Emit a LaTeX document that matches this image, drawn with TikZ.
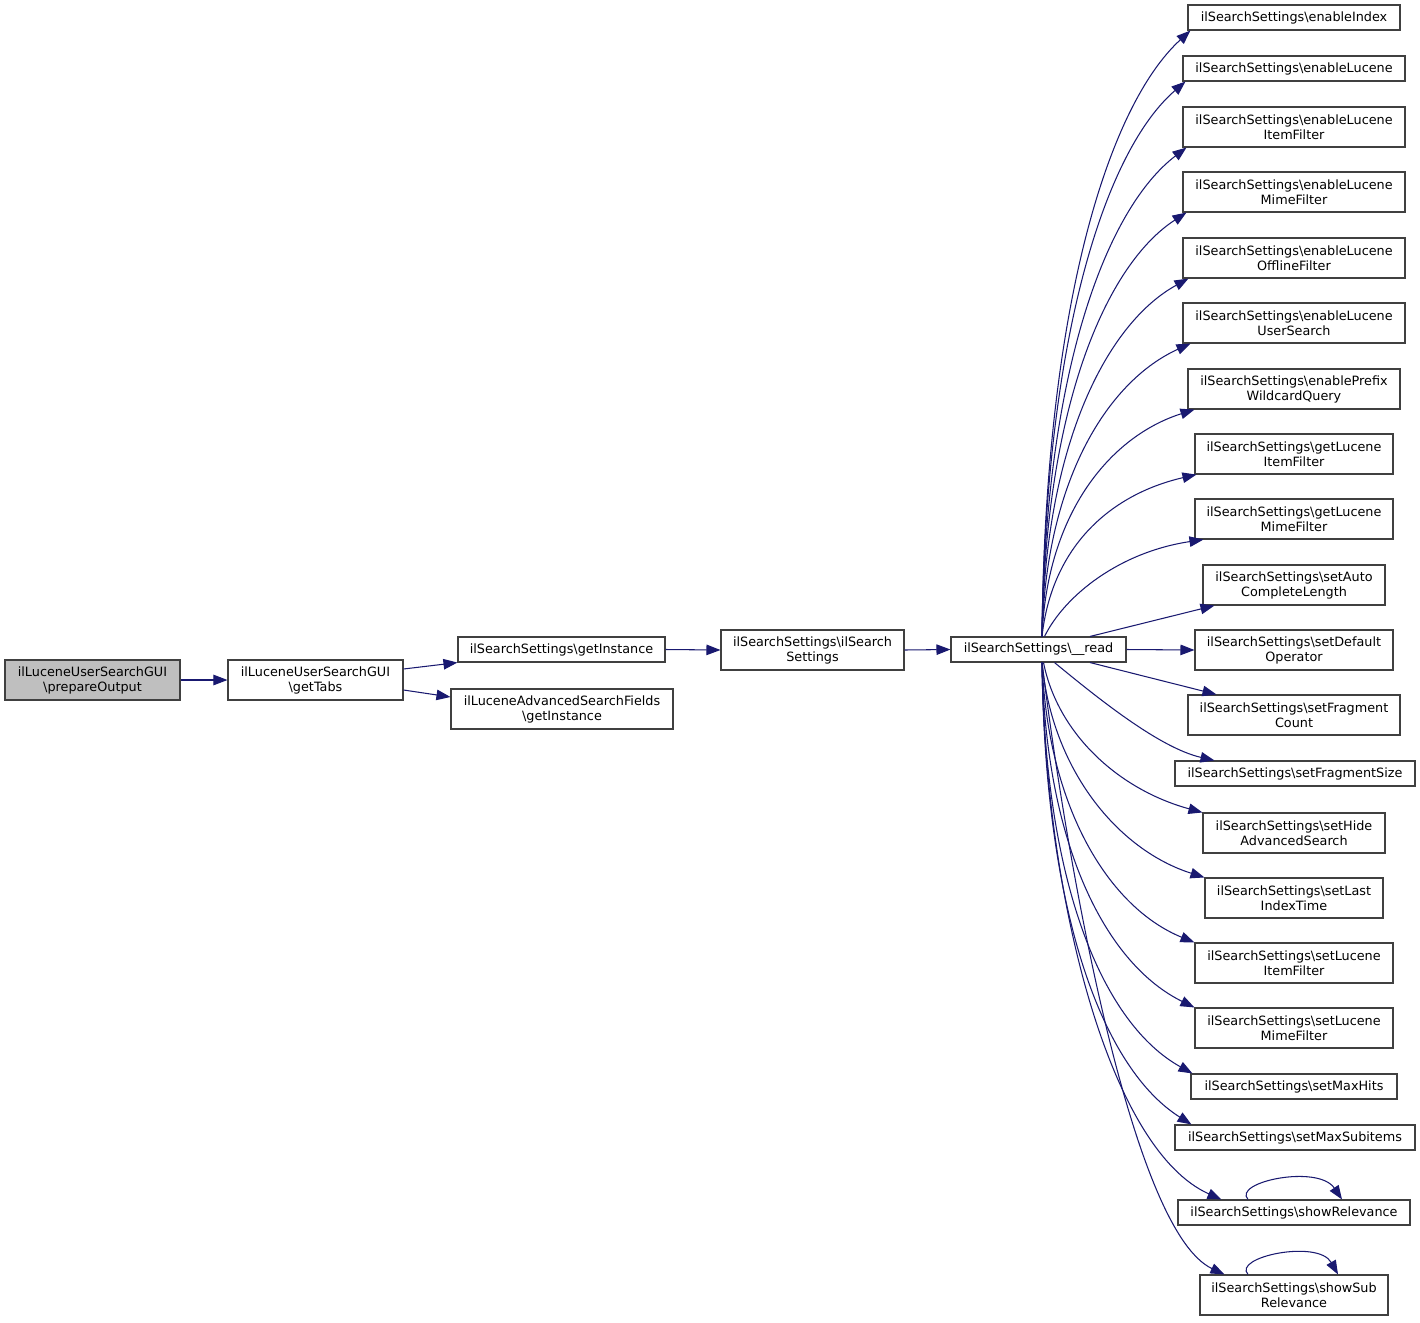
\documentclass[tikz,border=0pt]{standalone}
\usepackage{fontspec}
\setmainfont{DejaVu Sans}
\usetikzlibrary{arrows.meta}
\definecolor{edgec}{HTML}{191970}
\definecolor{borderc}{HTML}{404040}
\definecolor{grayfill}{HTML}{BFBFBF}
\begin{document}
\begin{tikzpicture}[x=1pt,y=-1pt,
  box/.style={draw=borderc,line width=1.1pt,fill=white,inner sep=0pt,align=center,
    font=\fontsize{12.8}{15}\selectfont},
  edge/.style={draw=edgec,line width=1.05pt,-{Triangle[length=14pt,width=10.5pt]}},
]
\useasboundingbox[fill=white] (0,0) rectangle (1420,1322);
\newcommand\bs{\textbackslash}
% left part
\node[box,fill=grayfill,minimum width=175pt,minimum height=40pt] (pre) at (92.5,680) {ilLuceneUserSearchGUI\\\bs prepareOutput};
\node[box,minimum width=175pt,minimum height=40pt] (tabs) at (315.5,680) {ilLuceneUserSearchGUI\\\bs getTabs};
\node[box,minimum width=207pt,minimum height=25pt] (gi) at (561.5,649.5) {ilSearchSettings\bs getInstance};
\node[box,minimum width=222pt,minimum height=40pt] (lasf) at (562,709) {ilLuceneAdvancedSearchFields\\\bs getInstance};
\node[box,minimum width=183pt,minimum height=40pt] (iss) at (812.5,650) {ilSearchSettings\bs ilSearch\\Settings};
\node[box,minimum width=175pt,minimum height=25pt] (read) at (1038.5,649.5) {ilSearchSettings\bs\_\_read};
% right column
\node[box,minimum width=212pt,minimum height=25pt] (eI) at (1294,17.5) {ilSearchSettings\bs enableIndex};
\node[box,minimum width=222pt,minimum height=25pt] (eL) at (1294,68.5) {ilSearchSettings\bs enableLucene};
\node[box,minimum width=222pt,minimum height=40pt] (eLIF) at (1294,127) {ilSearchSettings\bs enableLucene\\ItemFilter};
\node[box,minimum width=222pt,minimum height=40pt] (eLMF) at (1294,192) {ilSearchSettings\bs enableLucene\\MimeFilter};
\node[box,minimum width=222pt,minimum height=40pt] (eLOF) at (1294,258) {ilSearchSettings\bs enableLucene\\OfflineFilter};
\node[box,minimum width=222pt,minimum height=40pt] (eLUS) at (1294,323) {ilSearchSettings\bs enableLucene\\UserSearch};
\node[box,minimum width=212pt,minimum height=40pt] (ePWQ) at (1294,389) {ilSearchSettings\bs enablePrefix\\WildcardQuery};
\node[box,minimum width=198pt,minimum height=40pt] (gLIF) at (1294,454) {ilSearchSettings\bs getLucene\\ItemFilter};
\node[box,minimum width=198pt,minimum height=40pt] (gLMF) at (1294,519) {ilSearchSettings\bs getLucene\\MimeFilter};
\node[box,minimum width=182pt,minimum height=40pt] (sACL) at (1294,585) {ilSearchSettings\bs setAuto\\CompleteLength};
\node[box,minimum width=198pt,minimum height=40pt] (sDO) at (1294,650) {ilSearchSettings\bs setDefault\\Operator};
\node[box,minimum width=212pt,minimum height=40pt] (sFC) at (1294,715) {ilSearchSettings\bs setFragment\\Count};
\node[box,minimum width=240pt,minimum height=25pt] (sFS) at (1295,773.5) {ilSearchSettings\bs setFragmentSize};
\node[box,minimum width=182pt,minimum height=40pt] (sHAS) at (1294,833) {ilSearchSettings\bs setHide\\AdvancedSearch};
\node[box,minimum width=178pt,minimum height=40pt] (sLIT) at (1294,898) {ilSearchSettings\bs setLast\\IndexTime};
\node[box,minimum width=198pt,minimum height=40pt] (sLIF) at (1294,963) {ilSearchSettings\bs setLucene\\ItemFilter};
\node[box,minimum width=198pt,minimum height=40pt] (sLMF) at (1294,1028) {ilSearchSettings\bs setLucene\\MimeFilter};
\node[box,minimum width=206pt,minimum height=25pt] (sMH) at (1294,1086.5) {ilSearchSettings\bs setMaxHits};
\node[box,minimum width=240pt,minimum height=25pt] (sMS) at (1295,1137.5) {ilSearchSettings\bs setMaxSubitems};
\node[box,minimum width=232pt,minimum height=25pt] (sR) at (1294,1212.5) {ilSearchSettings\bs showRelevance};
\node[box,minimum width=188pt,minimum height=40pt] (sSR) at (1294,1295) {ilSearchSettings\bs showSub\\Relevance};

% straight edges
\draw[edge] (pre.east) -- (tabs.west);
\draw[edge] ([yshift=11pt]tabs.east) -- (gi.south west);
\draw[edge] ([yshift=-10pt]tabs.east) -- ([yshift=12pt]lasf.west);
\draw[edge] (gi.east) -- (iss.west);
\draw[edge] (iss.east) -- (read.west);
\draw[edge] (read.east) -- (sDO.west);
\draw[edge] ([xshift=51.5pt]read.north) -- ([xshift=12pt]sACL.south west);
\draw[edge] ([xshift=51.5pt]read.south) -- ([xshift=29pt]sFC.north west);

% upward curves
\draw[edge] ([xshift=3.5pt]read.north) .. controls (1045,304) and (1109,105) .. ([xshift=3pt]eI.south west);
\draw[edge] ([xshift=3.5pt]read.north) .. controls (1045,332) and (1107,149) .. ([xshift=3pt]eL.south west);
\draw[edge] ([xshift=3.5pt]read.north) .. controls (1045,369) and (1107,208) .. ([xshift=4pt]eLIF.south west);
\draw[edge] ([xshift=3.5pt]read.north) .. controls (1045,404) and (1107,264) .. ([xshift=4pt]eLMF.south west);
\draw[edge] ([xshift=3.5pt]read.north) .. controls (1045,440) and (1109,322) .. ([xshift=6pt]eLOF.south west);
\draw[edge] ([xshift=3.5pt]read.north) .. controls (1046,476) and (1110,380) .. ([xshift=8pt]eLUS.south west);
\draw[edge] ([xshift=3.5pt]read.north) .. controls (1047,512) and (1111,436) .. ([xshift=7pt]ePWQ.south west);
\draw[edge] ([xshift=3.5pt]read.north) .. controls (1052,545) and (1112,494) .. ([xshift=2pt]gLIF.south west);
\draw[edge] ([xshift=6pt]read.north) .. controls (1065,595) and (1120,552) .. ([xshift=9pt]gLMF.south west);

% downward curves
\draw[edge] ([xshift=16pt]read.south) .. controls (1100,700) and (1160,748) .. ([xshift=40pt]sFS.north west);
\draw[edge] ([xshift=5pt]read.south) .. controls (1058,735) and (1120,790) .. (sHAS.north west);
\draw[edge] ([xshift=3.5pt]read.south) .. controls (1052,770) and (1118,850) .. (sLIT.north west);
\draw[edge] ([xshift=3.5pt]read.south) .. controls (1048,810) and (1110,908) .. (sLIF.north west);
\draw[edge] ([xshift=3.5pt]read.south) .. controls (1046,850) and (1108,965) .. (sLMF.north west);
\draw[edge] ([xshift=3.5pt]read.south) .. controls (1045,890) and (1105,1025) .. ([xshift=2pt]sMH.north west);
\draw[edge] ([xshift=3.5pt]read.south) .. controls (1045,920) and (1105,1070) .. ([xshift=17pt]sMS.north west);
\draw[edge] ([xshift=3.5pt]read.south) .. controls (1045,900) and (1110,1150) .. ([xshift=44pt]sR.north west);
\draw[edge] ([xshift=3.5pt]read.south) .. controls (1065,850) and (1130,1230) .. ([xshift=25pt]sSR.north west);

% self loops
\draw[edge] ([xshift=-46pt]sR.north) .. controls (1232,1182) and (1318,1164) .. ([xshift=48pt]sR.north);
\draw[edge] ([xshift=-46pt]sSR.north) .. controls (1232,1257) and (1318,1239) .. ([xshift=44pt]sSR.north);
\end{tikzpicture}
\end{document}
